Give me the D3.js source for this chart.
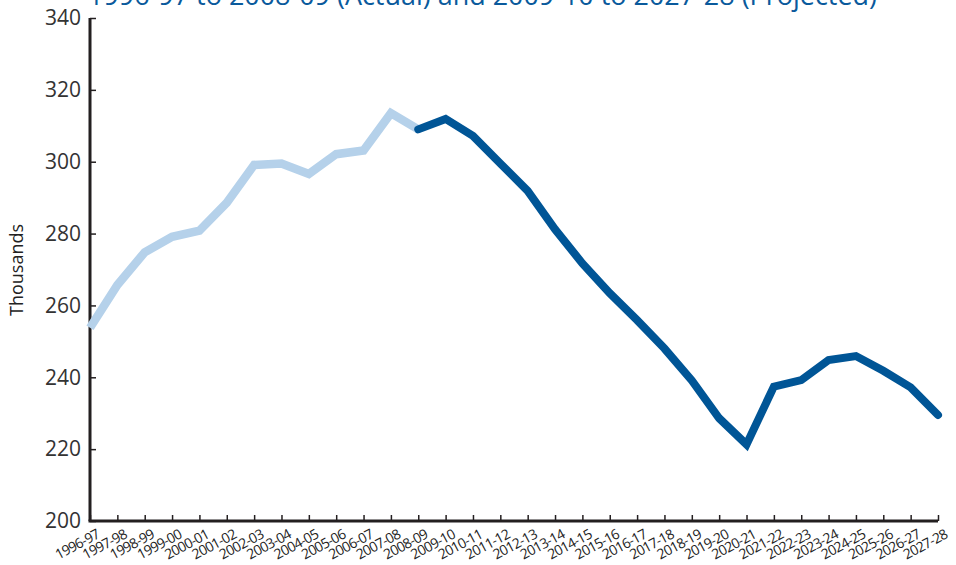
<!DOCTYPE html>
<html>
<head>
<meta charset="utf-8">
<script src="https://cdn.jsdelivr.net/npm/d3@7"></script>
<style>
  body { margin: 0; background: #fff; }
  svg { font-family: "Open Sans", "Noto Sans", sans-serif; }
</style>
</head>
<body>
<svg id="chart"></svg>
<script>
const years = ["1996-97","1997-98","1998-99","1999-00","2000-01","2001-02","2002-03","2003-04",
  "2004-05","2005-06","2006-07","2007-08","2008-09","2009-10","2010-11","2011-12","2012-13",
  "2013-14","2014-15","2015-16","2016-17","2017-18","2018-19","2019-20","2020-21","2021-22",
  "2022-23","2023-24","2024-25","2025-26","2026-27","2027-28"];

// actual values, 1996-97 to 2008-09
const actual = [253.8, 265.7, 274.8, 279.1, 280.8, 288.6, 299.1, 299.5, 296.6, 302.1, 303.1, 313.5, 309.0];
// projected values, 2008-09 to 2027-28
const projected = [309.0, 311.9, 307.2, 299.5, 291.9, 281.2, 271.7, 263.4, 255.9, 248.0, 239.1, 228.6,
  221.3, 237.4, 239.2, 244.8, 245.9, 241.8, 237.2, 229.5];

const yTicks = [200, 220, 240, 260, 280, 300, 320, 340];
const title = "1996-97 to 2008-09 (Actual) and 2009-10 to 2027-28 (Projected)";

const W = 956, H = 565;
const margin = { top: 18, right: 18, bottom: 44, left: 90 };
const width = W - margin.left - margin.right,
  height = H - margin.top - margin.bottom;

const svg = d3.select("#chart").attr("width", W).attr("height", H);

svg.append("text")
  .attr("x", 88).attr("y", 5)
  .attr("fill", "#0a5a9c")
  .style("font-size", "26.5px")
  .attr("textLength", 789)
  .attr("lengthAdjust", "spacingAndGlyphs")
  .text(title);

const g = svg.append("g").attr("transform", `translate(${margin.left},${margin.top})`);

const x = d3.scalePoint().domain(years).range([0, width]);
const y = d3.scaleLinear().domain([200, 340]).range([height, 0]);

// y axis
const yAxis = g.append("g")
  .call(d3.axisLeft(y).tickValues(yTicks).tickSize(-6).tickPadding(9).tickFormat(d3.format("d")));
yAxis.attr("font-family", null);
yAxis.select(".domain").attr("stroke", "#231f20").attr("stroke-width", 3)
  .attr("d", `M0,0V${height}`);
yAxis.selectAll(".tick line").attr("stroke", "#231f20").attr("stroke-width", 1.5);
yAxis.selectAll(".tick text").attr("fill", "#333").style("font-size", "21px");

// x axis
const xAxis = g.append("g")
  .attr("transform", `translate(0,${height})`)
  .call(d3.axisBottom(x).tickSize(-6).tickPadding(8));
xAxis.attr("font-family", null);
xAxis.select(".domain").attr("stroke", "#231f20").attr("stroke-width", 3)
  .attr("d", `M-1.5,0H${width}`);
xAxis.selectAll(".tick line").attr("stroke", "#231f20").attr("stroke-width", 1.5);
xAxis.selectAll(".tick text")
  .attr("fill", "#222")
  .style("font-size", "14px")
  .style("letter-spacing", "-0.7px")
  .style("text-anchor", "end")
  .attr("dy", "0.35em")
  .attr("transform", "translate(4,5) rotate(-28)");

// y label
svg.append("text")
  .attr("transform", "translate(23,270) rotate(-90)")
  .attr("text-anchor", "middle")
  .attr("fill", "#222")
  .style("font-size", "18px")
  .text("Thousands");

const line = d3.line()
  .x(d => x(d.year))
  .y(d => y(d.value));

const actualData = actual.map((v, i) => ({ year: years[i], value: v }));
const projData = projected.map((v, i) => ({ year: years[i + 12], value: v }));

g.append("path")
  .datum(actualData)
  .attr("fill", "none")
  .attr("stroke", "#b5d1ea")
  .attr("stroke-width", 8.5)
  .attr("stroke-linejoin", "miter")
  .attr("d", line);

g.append("path")
  .datum(projData)
  .attr("fill", "none")
  .attr("stroke", "#005596")
  .attr("stroke-width", 8)
  .attr("stroke-linecap", "round")
  .attr("stroke-linejoin", "miter")
  .attr("d", line);
</script>
</body>
</html>
